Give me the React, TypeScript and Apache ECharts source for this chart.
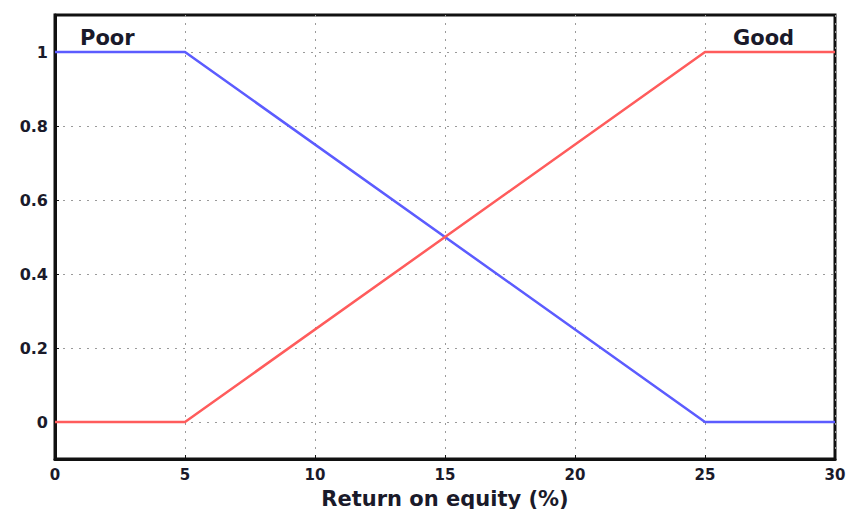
import React, { useEffect, useRef } from "react";
import * as echarts from "echarts";

const xPoints = [0, 5, 25, 30];
const poorValues = [1, 1, 0, 0];
const goodValues = [0, 0, 1, 1];
const yTicks = [0, 0.2, 0.4, 0.6, 0.8, 1];
const xTicks = [0, 5, 10, 15, 20, 25, 30];
const xAxisName = "Return on equity (%)";
const poorLabel = "Poor";
const goodLabel = "Good";

const FONT = "DejaVu Sans, Liberation Sans, Arial, sans-serif";

export default function App() {
  const ref = useRef<HTMLDivElement>(null);
  useEffect(() => {
    if (!ref.current) return;
    const chart = echarts.init(ref.current, undefined, { renderer: "svg" });
    const gridLineStyle = { color: "#9a9a9a", width: 1, type: [2, 6] as any };
    chart.setOption({
      animation: false,
      backgroundColor: "#ffffff",
      textStyle: { fontFamily: FONT },
      grid: {
        left: 55,
        right: 15,
        top: 15,
        bottom: 50,
        outerBoundsMode: "none",
        containLabel: false,
        show: true,
        borderColor: "#111",
        borderWidth: 3,
        backgroundColor: "transparent",
      },
      xAxis: {
        type: "value",
        min: 0,
        max: 30,
        interval: 5,
        name: xAxisName,
        nameLocation: "middle",
        nameGap: 29,
        nameTextStyle: { fontSize: 21, color: "#1a1a2a", fontWeight: "bold", fontFamily: FONT },
        axisLine: { show: true, onZero: false, lineStyle: { color: "#111", width: 3 } },
        axisTick: { show: true, inside: true, length: 4, lineStyle: { color: "#111" } },
        axisLabel: {
          fontSize: 15,
          fontWeight: "bold",
          color: "#1a1a2a",
          margin: 8,
          customValues: xTicks,
        },
        splitLine: { show: true, lineStyle: gridLineStyle },
      },
      yAxis: {
        type: "value",
        min: -0.1,
        max: 1.1,
        axisLine: { show: true, onZero: false, lineStyle: { color: "#111", width: 3 } },
        axisTick: { show: true, inside: true, length: 4, customValues: yTicks, lineStyle: { color: "#111" } },
        axisLabel: {
          fontSize: 16,
          fontWeight: "bold",
          color: "#1a1a2a",
          margin: 7,
          customValues: yTicks,
          formatter: (v: number) => String(Math.round(v * 10) / 10),
        },
        splitLine: { show: true, lineStyle: gridLineStyle },
      },
      series: [
        {
          type: "line",
          data: xPoints.map((x, i) => [x, poorValues[i]]),
          symbol: "none",
          lineStyle: { color: "#5c5cff", width: 2.5 },
          z: 3,
        },
        {
          type: "line",
          data: xPoints.map((x, i) => [x, goodValues[i]]),
          symbol: "none",
          lineStyle: { color: "#ff5c5c", width: 2.5 },
          z: 3,
        },
      ],
      graphic: [
        {
          type: "text",
          left: 80,
          top: 27,
          style: { text: poorLabel, fontSize: 21, fontWeight: "bold", fill: "#1a1a2a", fontFamily: FONT },
        },
        {
          type: "text",
          left: 733,
          top: 27,
          style: { text: goodLabel, fontSize: 21, fontWeight: "bold", fill: "#1a1a2a", fontFamily: FONT },
        },
      ],
    });
    return () => chart.dispose();
  }, []);
  return <div ref={ref} style={{ width: 850, height: 509, position: "absolute", left: 0, top: 0 }} />;
}
